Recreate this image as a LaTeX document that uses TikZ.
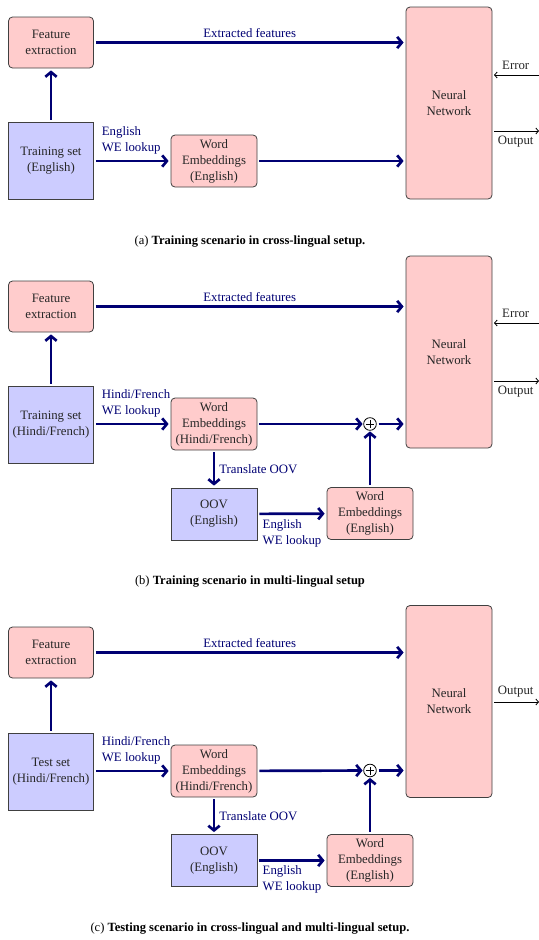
\documentclass[tikz,border=0pt]{standalone}
\usepackage{fontspec}
\setmainfont{Liberation Serif}
\usetikzlibrary{arrows.meta,calc}
\definecolor{navy}{RGB}{0,0,115}
\definecolor{pinkf}{RGB}{255,204,204}
\definecolor{bluef}{RGB}{204,204,255}
\begin{document}
\begin{tikzpicture}[x=0.75pt,y=-0.75pt,
  every node/.style={font=\fontsize{9.6}{12}\selectfont},
  boxbase/.style={draw=black!75, line width=0.6pt, align=center, inner sep=0pt, text=black!85},
  pbox/.style={boxbase, fill=pinkf, rounded corners=3pt},
  bbox/.style={boxbase, fill=bluef},
  fesz/.style={minimum width=63.75pt, minimum height=38.25pt},
  tssz/.style={minimum width=63.75pt, minimum height=57.75pt},
  wesz/.style={minimum width=64.5pt, minimum height=39pt},
  nnsz/.style={minimum width=64.5pt, minimum height=144pt},
  flow/.style={draw=navy, line width=2pt, -{Straight Barb[length=3.5pt,width=8.5pt]}, shorten <=1.5pt, shorten >=1.5pt},
  sig/.style={draw=black, line width=0.6pt, -{Straight Barb[length=2pt,width=4.5pt]}, shorten <=1.2pt},
  sigin/.style={draw=black, line width=0.6pt, -{Straight Barb[length=2pt,width=4.5pt]}, shorten >=1.2pt},
  lab/.style={text=navy, align=left, inner sep=1pt},
  toplab/.style={text=navy, inner sep=2.5pt},
  slab/.style={text=black!85, inner sep=3.5pt},
  plusc/.style={circle, draw=black, fill=white, line width=0.6pt, minimum size=9.5pt, inner sep=0pt,
    path picture={\draw[line width=0.6pt] ([xshift=-3pt]path picture bounding box.center) -- ([xshift=3pt]path picture bounding box.center);
                  \draw[line width=0.6pt] ([yshift=-3pt]path picture bounding box.center) -- ([yshift=3pt]path picture bounding box.center);}},
  captext/.style={font=\fontsize{9.4}{11}\selectfont, inner sep=0pt}
]
\useasboundingbox (0,0) rectangle (539,940);

% ---------------- (a) ----------------
\node[pbox,fesz] (fea) at (51,42.5) {Feature\\extraction};
\node[bbox,tssz] (tsa) at (51,160.5) {Training set\\(English)};
\node[pbox,wesz] (wea) at (214,161) {Word\\Embeddings\\(English)};
\node[pbox,nnsz] (nna) at (449,103) {Neural\\Network};
\coordinate (erra) at (539,75);
\coordinate (outa) at (539,131);
\draw[flow] (tsa) -- (fea);
\draw[flow] (fea) -- node[toplab,above,midway]{Extracted features} (fea -| nna.west);
\draw[flow] (tsa.east |- wea) -- node[lab,pos=0,anchor=south west,xshift=4pt,yshift=3pt]{English\\WE lookup} (wea);
\draw[flow] (wea) -- (wea -| nna.west);
\draw[sigin] (erra) -- node[slab,above]{Error} (erra -| nna.east);
\draw[sig] (outa -| nna.east) -- node[slab,below]{Output} (outa);
\node[captext] (capa) at (250,242) {(a) \textbf{Training scenario in cross-lingual setup.}};

% ---------------- (b) ----------------
\node[pbox,fesz] (feb) at (51,306.5) {Feature\\extraction};
\node[bbox,tssz] (tsb) at (51,424.5) {Training set\\(Hindi/French)};
\node[pbox,wesz] (weob) at (214,424) {Word\\Embeddings\\(Hindi/French)};
\node[pbox,nnsz] (nnb) at (449,352) {Neural\\Network};
\node[plusc] (plb) at (370,424) {};
\node[bbox,wesz] (oovb) at (214,514) {OOV\\(English)};
\node[pbox,wesz] (wetb) at (370,513.5) {Word\\Embeddings\\(English)};
\coordinate (errb) at (539,323);
\coordinate (outb) at (539,381);
\draw[flow] (tsb) -- (feb);
\draw[flow] (feb) -- node[toplab,above,midway]{Extracted features} (feb -| nnb.west);
\draw[flow] (tsb.east |- weob) -- node[lab,pos=0,anchor=south west,xshift=4pt,yshift=3pt]{Hindi/French\\WE lookup} (weob);
\draw[flow,shorten >=0.5pt] (weob) -- (plb);
\draw[flow] (plb) -- (plb -| nnb.west);
\draw[flow] (weob) -- node[lab,right,xshift=2pt]{Translate OOV} (oovb);
\draw[flow] (oovb) -- node[lab,pos=0,anchor=north west,xshift=2pt,yshift=-2pt]{English\\WE lookup} (wetb);
\draw[flow,shorten >=0.5pt] (wetb) -- (plb);
\draw[sigin] (errb) -- node[slab,above]{Error} (errb -| nnb.east);
\draw[sig] (outb -| nnb.east) -- node[slab,below]{Output} (outb);
\node[captext] (capb) at (250,582) {(b) \textbf{Training scenario in multi-lingual setup}};

% ---------------- (c) ----------------
\node[pbox,fesz] (fec) at (51,652.5) {Feature\\extraction};
\node[bbox,tssz] (tsc) at (51,771.5) {Test set\\(Hindi/French)};
\node[pbox,wesz] (weoc) at (214,771) {Word\\Embeddings\\(Hindi/French)};
\node[pbox,nnsz] (nnc) at (449,701.5) {Neural\\Network};
\node[plusc] (plc) at (370,770.5) {};
\node[bbox,wesz] (oovc) at (214,860.5) {OOV\\(English)};
\node[pbox,wesz] (wetc) at (370,860.5) {Word\\Embeddings\\(English)};
\coordinate (outc) at (539,702);
\draw[flow] (tsc) -- (fec);
\draw[flow] (fec) -- node[toplab,above,midway]{Extracted features} (fec -| nnc.west);
\draw[flow] (tsc.east |- weoc) -- node[lab,pos=0,anchor=south west,xshift=4pt,yshift=3pt]{Hindi/French\\WE lookup} (weoc);
\draw[flow,shorten >=0.5pt] (weoc) -- (plc);
\draw[flow] (plc) -- (plc -| nnc.west);
\draw[flow] (weoc) -- node[lab,right,xshift=2pt]{Translate OOV} (oovc);
\draw[flow] (oovc) -- node[lab,pos=0,anchor=north west,xshift=2pt,yshift=-2pt]{English\\WE lookup} (wetc);
\draw[flow,shorten >=0.5pt] (wetc) -- (plc);
\draw[sig] (outc -| nnc.east) -- node[slab,above]{Output} (outc);
\node[captext] (capc) at (250,929) {(c) \textbf{Testing scenario in cross-lingual and multi-lingual setup.}};
\end{tikzpicture}
\end{document}
